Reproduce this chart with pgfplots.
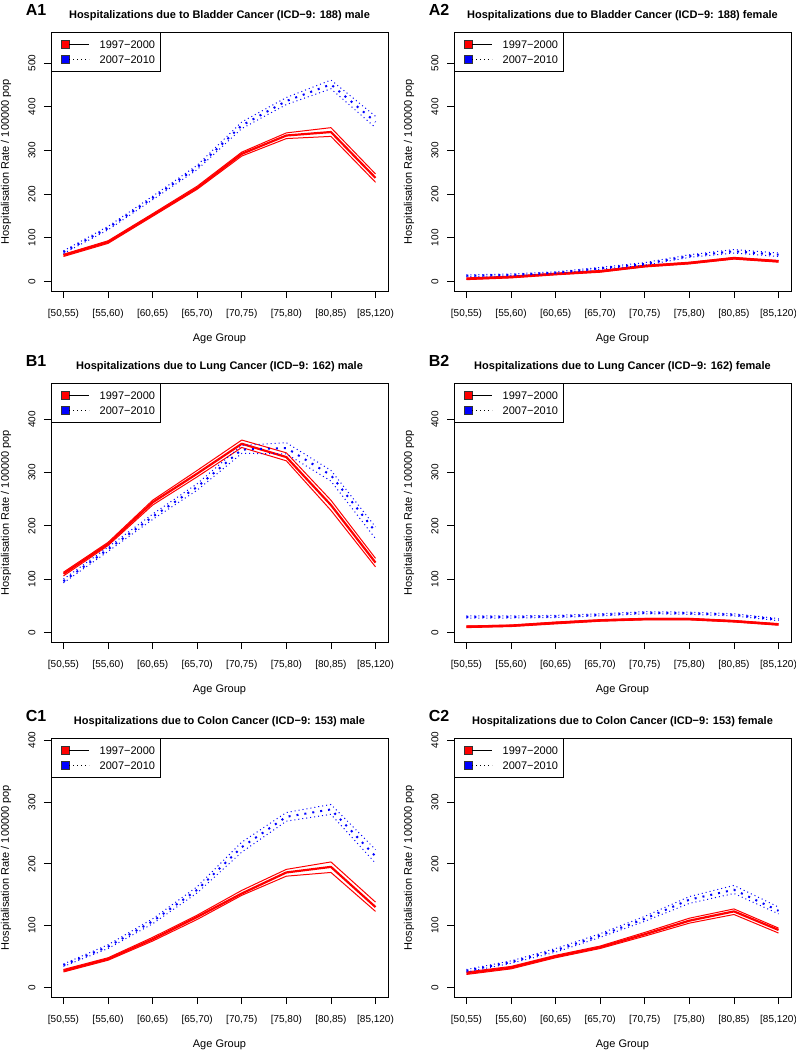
\documentclass[border=0pt]{standalone}
\usepackage{fontspec}
\setmainfont{Liberation Sans}
\usepackage{pgfplots}
\usepackage{pgfplotstable}
\pgfplotsset{compat=1.18}

% columns: age group index, red band (1997-2000) lo/mid/hi, blue band (2007-2010) lo/mid/hi
\pgfplotstableread{
x rlo rmid rhi blo bmid bhi
1 57 60 62 64 67 70
2 87 90 93 118 122 126
3 149 152 155 187 191 195
4 211 214 218 256 261 266
5 287 292 296 350 357 365
6 327 334 340 405 413 421
7 332 342 352 441 451 461
8 227 237 246 352 365 378
}\bladderM
\pgfplotstableread{
x rlo rmid rhi blo bmid bhi
1 4 6 8 11 13 15
2 8 10 12 13 15 17
3 15 17 19 18 20 22
4 21 23 25 28 30 32
5 33 35 37 37 40 43
6 40 42 44 55 58 61
7 51 53 55 65 69 73
8 44 46 48 57 61 65
}\bladderF
\pgfplotstableread{
x rlo rmid rhi blo bmid bhi
1 106 110 113 93 96 100
2 163 166 169 152 156 160
3 239 244 248 212 217 222
4 292 298 304 267 273 279
5 347 354 361 336 343 351
6 322 329 337 335 346 356
7 229 239 248 284 295 304
8 123 131 139 176 189 198
}\lungM
\pgfplotstableread{
x rlo rmid rhi blo bmid bhi
1 9 11 12 27 29 31
2 11 12.5 14 27 29 31
3 16 18 19.5 28 30 32
4 21 22.5 24 31 33 35
5 23.5 25 26.5 35 37 39
6 23.5 25 26.5 34 36 38
7 19.5 21 22.5 31 33 35
8 13.5 15 16.5 22 24 26
}\lungF
\pgfplotstableread{
x rlo rmid rhi blo bmid bhi
1 25 27 29 34 36 38
2 44 46 48 63 66 69
3 75 78 81 103 107 111
4 110 114 117 153 158 163
5 149 152 157 219 227 235
6 180 186 191 269 276 283
7 186 195 203 280 288 296
8 123 130 138 201 212 223
}\colonM
\pgfplotstableread{
x rlo rmid rhi blo bmid bhi
1 21 23 25 25 27 29
2 30 32 34 39 41 43
3 48 50 52 57 60 63
4 63 65 67 81 84 87
5 83 86 89 107 111 115
6 104 108 112 136 142 147
7 118 123 127 152 158 165
8 88 93 96 119 124 130
}\colonF

\pgfplotsset{
  panel/.style={
    scale only axis, width=337bp, height=259bp,
    anchor=north west,
    xmin=0.72, xmax=8.28,
    xtick={1,...,8},
    xticklabels={{[50,55)},{[55,60)},{[60,65)},{[65,70)},{[70,75)},{[75,80)},{[80,85)},{[85,120)}},
    tick pos=left,
    tick align=outside,
    major tick length=7bp,
    tick style={black, line width=0.8bp},
    axis line style={black, line width=0.9bp},
    ticklabel style={font=\fontsize{10bp}{12bp}\selectfont},
    yticklabel style={rotate=90, anchor=south},
    xticklabel shift=8bp,
    yticklabel shift=5bp,
    /pgf/number format/assume math mode=true,
    xlabel={Age Group},
    ylabel={Hospitalisation Rate / 100000 pop},
    label style={font=\fontsize{11bp}{13bp}\selectfont},
    xlabel style={at={([yshift=-48bp]axis description cs:0.5,0)}, anchor=center},
    ylabel style={at={([xshift=-45bp]axis description cs:0,0.5)}, anchor=center},
    title style={at={([yshift=10bp]axis description cs:0.5,1)}, anchor=center,
      font=\bfseries\fontsize{11bp}{13bp}\selectfont},
    clip=false,
    legend cell align=left,
    legend style={at={(0,1)}, anchor=north west, draw=black, line width=0.8bp,
      fill=white, inner xsep=5.5bp, inner ysep=8bp, row sep=6bp,
      font=\fontsize{11bp}{13bp}\selectfont,
      nodes={inner sep=0pt, text height=8bp, text depth=0pt},
      /tikz/every odd column/.append style={column sep=10bp}},
  },
  rb/.style={red, line width=1bp, line join=round, forget plot},
  rc/.style={red, line width=2.2bp, line join=round, forget plot},
  bb/.style={blue, line width=1bp, dash pattern=on 1bp off 3bp, forget plot},
  bc/.style={blue, line width=2bp, dash pattern=on 2bp off 6bp, forget plot},
}

\newcommand\bands[1]{%
  \addplot[rb] table[x=x,y=rlo]{#1};
  \addplot[rb] table[x=x,y=rhi]{#1};
  \addplot[rc] table[x=x,y=rmid]{#1};
  \addplot[bb] table[x=x,y=blo]{#1};
  \addplot[bb] table[x=x,y=bhi]{#1};
  \addplot[bc] table[x=x,y=bmid]{#1};
  \addlegendimage{legend image code/.code={
    \path (0bp,0bp);
    \draw[draw=black!80, fill=red, line width=0.7bp] (4bp,-4bp) rectangle (12bp,4bp);
    \draw[black, line width=0.8bp] (12bp,0bp) -- (32bp,0bp);}}
  \addlegendentry{1997−2000}
  \addlegendimage{legend image code/.code={
    \path (0bp,0bp);
    \draw[draw=black!80, fill=blue, line width=0.7bp] (4bp,-4bp) rectangle (12bp,4bp);
    \draw[black, line width=0.8bp, dash pattern=on 1bp off 3bp] (12bp,0bp) -- (32bp,0bp);}}
  \addlegendentry{2007−2010}
}
\newcommand\panellabel[1]{%
  \node[font=\bfseries\fontsize{16bp}{18bp}\selectfont, anchor=center]
    at ([xshift=-15bp, yshift=22bp]axis description cs:0,1) {#1};
}

\begin{document}
\begin{tikzpicture}
\useasboundingbox (0,0) rectangle (796bp,-1050bp);

\begin{axis}[panel, at={(51bp,-32bp)}, ymin=-22, ymax=571, ytick={0,100,...,500},
  title={Hospitalizations due to Bladder Cancer (ICD−9: 188) male}]
\bands{\bladderM}
\panellabel{A1}
\end{axis}

\begin{axis}[panel, at={(454bp,-32bp)}, ymin=-22, ymax=571, ytick={0,100,...,500},
  title={Hospitalizations due to Bladder Cancer (ICD−9: 188) female}]
\bands{\bladderF}
\panellabel{A2}
\end{axis}

\begin{axis}[panel, at={(51bp,-383bp)}, ymin=-18, ymax=468, ytick={0,100,...,400},
  title={Hospitalizations due to Lung Cancer (ICD−9: 162) male}]
\bands{\lungM}
\panellabel{B1}
\end{axis}

\begin{axis}[panel, at={(454bp,-383bp)}, ymin=-18, ymax=468, ytick={0,100,...,400},
  title={Hospitalizations due to Lung Cancer (ICD−9: 162) female}]
\bands{\lungF}
\panellabel{B2}
\end{axis}

\begin{axis}[panel, at={(51bp,-738bp)}, ymin=-15.5, ymax=403.5, ytick={0,100,...,400},
  title={Hospitalizations due to Colon Cancer (ICD−9: 153) male}]
\bands{\colonM}
\panellabel{C1}
\end{axis}

\begin{axis}[panel, at={(454bp,-738bp)}, ymin=-15.5, ymax=403.5, ytick={0,100,...,400},
  title={Hospitalizations due to Colon Cancer (ICD−9: 153) female}]
\bands{\colonF}
\panellabel{C2}
\end{axis}
\end{tikzpicture}
\end{document}
